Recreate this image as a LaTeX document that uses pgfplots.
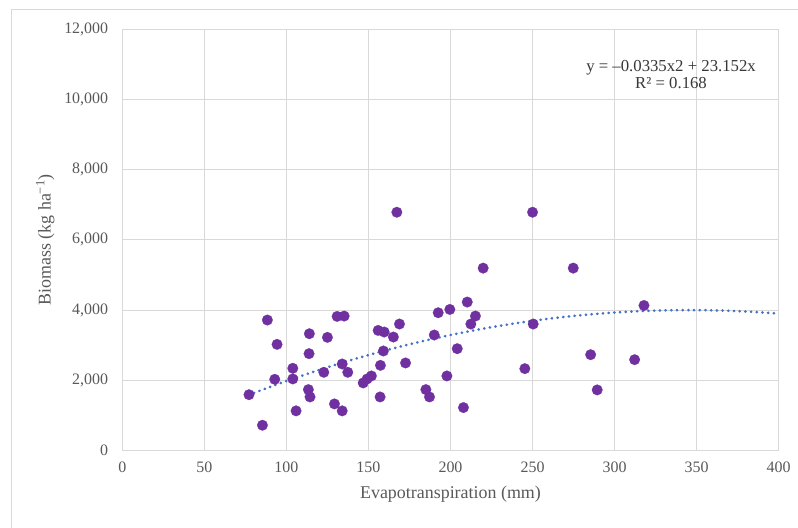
\documentclass[border=0pt]{standalone}
\usepackage{fontspec}
\setmainfont{Liberation Serif}
\usepackage{pgfplots}
\pgfplotsset{compat=1.18}
\definecolor{gridc}{HTML}{D9D9D9}
\definecolor{txt}{HTML}{595959}
\definecolor{dotc}{HTML}{7030A0}
\definecolor{trend}{HTML}{4472C4}
\begin{document}
\begin{tikzpicture}
\useasboundingbox (0,0) rectangle (798bp,528bp);
\fill[white] (0,0) rectangle (798bp,528bp);
\draw[gridc, line width=1bp] (11.5bp,-5bp) -- (11.5bp,518.5bp) -- (805bp,518.5bp);
\begin{axis}[
  at={(122.3bp,77.5bp)}, anchor=south west,
  scale only axis, width=656.4bp, height=421.2bp,
  xmin=0, xmax=400, ymin=0, ymax=12000,
  xtick={0,50,...,400}, ytick={0,2000,...,12000},
  grid=major, major grid style={gridc, line width=0.9bp},
  axis line style={gridc, line width=0.9bp},
  tick style={draw=none}, major tick length=0pt,
  scaled y ticks=false,
  /pgf/number format/assume math mode=true,
  /pgf/number format/1000 sep={,},
  tick label style={font=\fontsize{16}{19}\selectfont, text=txt},
  xticklabel style={anchor=north, inner sep=0pt, yshift=-11bp},
  yticklabel style={anchor=east, inner sep=0pt, xshift=-14bp},
  xlabel={Evapotranspiration (mm)},
  ylabel={Biomass (kg ha\textsuperscript{−1})},
  label style={font=\fontsize{18}{21}\selectfont, text=txt},
  xlabel style={at={(axis description cs:0.5,-0.1033)}, anchor=center},
  ylabel style={at={(axis description cs:-0.1173,0.5)}, anchor=center},
]
\addplot[color=dotc, only marks, mark=*, mark size=5.3bp, mark options={fill=dotc, draw=dotc, line width=0.2bp}] table {
x y
77.2 1590
85.4 720
88.4 3717
94.3 3024
92.9 2028
103.9 2342
103.9 2039
105.9 1129
114.0 3327
113.8 2759
113.4 1735
114.4 1526
125.0 3223
122.8 2228
130.9 3820
135.2 3830
134.0 2465
137.4 2228
129.3 1327
134.0 1129
146.8 1925
149.2 2039
151.8 2124
157.1 1526
155.9 3421
159.6 3375
165.2 3233
168.9 3603
159.1 2835
157.3 2426
172.6 2494
167.3 6788
250.0 6788
219.9 5196
274.8 5196
192.5 3925
199.6 4019
210.2 4229
215.2 3831
212.4 3603
190.1 3290
204.1 2901
197.8 2124
185.0 1735
187.2 1526
207.9 1223
245.3 2332
250.4 3603
285.4 2730
289.4 1726
312.2 2588
317.9 4132
};
\addplot[trend, line width=2.8bp, dash pattern=on 0.2bp off 5.5bp, line cap=round, smooth, no marks] coordinates {
(77,1584) (80,1638) (100,1980) (120,2296) (140,2585) (160,2847) (180,3082) (200,3290) (220,3472) (240,3627) (260,3755) (280,3856) (300,3931) (320,3978) (340,3999) (360,3993) (380,3960) (400,3901)
};
\node[align=center, text=black!78, font=\fontsize{16.8}{17.6}\selectfont] at (axis cs:334.4,10712) {y = –0.0335x2 + 23.152x\\R² = 0.168};
\end{axis}
\end{tikzpicture}
\end{document}
